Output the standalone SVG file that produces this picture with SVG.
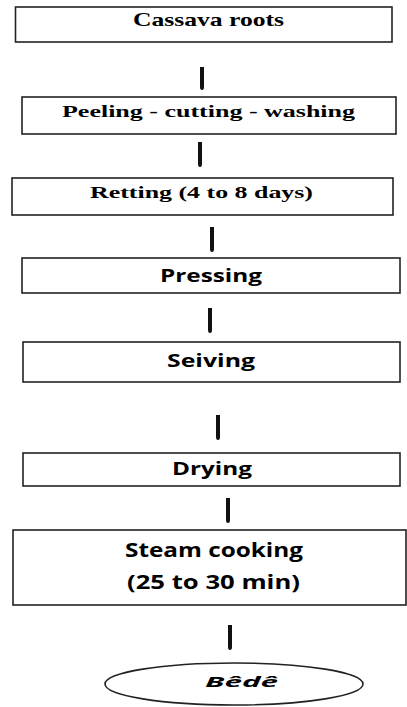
<svg xmlns="http://www.w3.org/2000/svg" width="407" height="707" viewBox="0 0 407 707">
<style>
.box{fill:#fff;stroke:#222;stroke-width:1.6}
.serif{font-family:"Liberation Serif","Times New Roman",serif;font-weight:bold;fill:#000}
.sans{font-family:"Open Sans","Liberation Sans",sans-serif;font-weight:bold;fill:#000}
.arr{fill:#111}
</style>
<rect width="407" height="707" fill="#fff"/>
<g id="connectors">
<path class="arr" d="M200,67 H204 V87 Q204,90 202,90 Q200,90 200,87 Z"/>
<path class="arr" d="M198,142 H202 V164 Q202,167 200,167 Q198,167 198,164 Z"/>
<path class="arr" d="M210,227 H214 V249 Q214,252 212,252 Q210,252 210,249 Z"/>
<path class="arr" d="M208,308 H212 V330 Q212,333 210,333 Q208,333 208,330 Z"/>
<path class="arr" d="M216,415 H220 V437 Q220,440 218,440 Q216,440 216,437 Z"/>
<path class="arr" d="M226,498 H230 V520 Q230,523 228,523 Q226,523 226,520 Z"/>
<path class="arr" d="M228,625 H232 V647 Q232,650 230,650 Q228,650 228,647 Z"/>
</g>
<g id="n1">
<rect class="box" x="15.5" y="7" width="376.5" height="35"/>
<text class="serif" x="133" y="26" font-size="19" textLength="151" lengthAdjust="spacingAndGlyphs">Cassava roots</text>
</g>
<g id="n2">
<rect class="box" x="22" y="97" width="374" height="37"/>
<text class="serif" x="62" y="117" font-size="16" textLength="293" lengthAdjust="spacingAndGlyphs">Peeling - cutting - washing</text>
</g>
<g id="n3">
<rect class="box" x="12" y="178" width="381" height="37"/>
<text class="serif" x="90" y="198" font-size="17.5" textLength="223" lengthAdjust="spacingAndGlyphs">Retting (4 to 8 days)</text>
</g>
<g id="n4">
<rect class="box" x="22" y="258" width="378" height="35"/>
<text class="sans" x="160" y="282" font-size="17" textLength="102" lengthAdjust="spacingAndGlyphs">Pressing</text>
</g>
<g id="n5">
<rect class="box" x="23" y="342" width="377" height="40"/>
<text class="sans" x="167" y="367" font-size="17" textLength="88" lengthAdjust="spacingAndGlyphs">Seiving</text>
</g>
<g id="n6">
<rect class="box" x="23" y="453" width="377" height="33"/>
<text class="sans" x="172" y="475" font-size="17" textLength="80" lengthAdjust="spacingAndGlyphs">Drying</text>
</g>
<g id="n7">
<rect class="box" x="13" y="530" width="393" height="75"/>
<text class="sans" x="125" y="557" font-size="19.5" textLength="178" lengthAdjust="spacingAndGlyphs">Steam cooking</text>
<text class="sans" x="127" y="589" font-size="19.5" textLength="173" lengthAdjust="spacingAndGlyphs">(25 to 30 min)</text>
</g>
<g id="n8">
<ellipse class="box" cx="234" cy="684" rx="129" ry="21"/>
<text class="sans" x="205" y="687" font-size="15" font-style="italic" textLength="73" lengthAdjust="spacingAndGlyphs">Bêdê</text>
</g>
</svg>
